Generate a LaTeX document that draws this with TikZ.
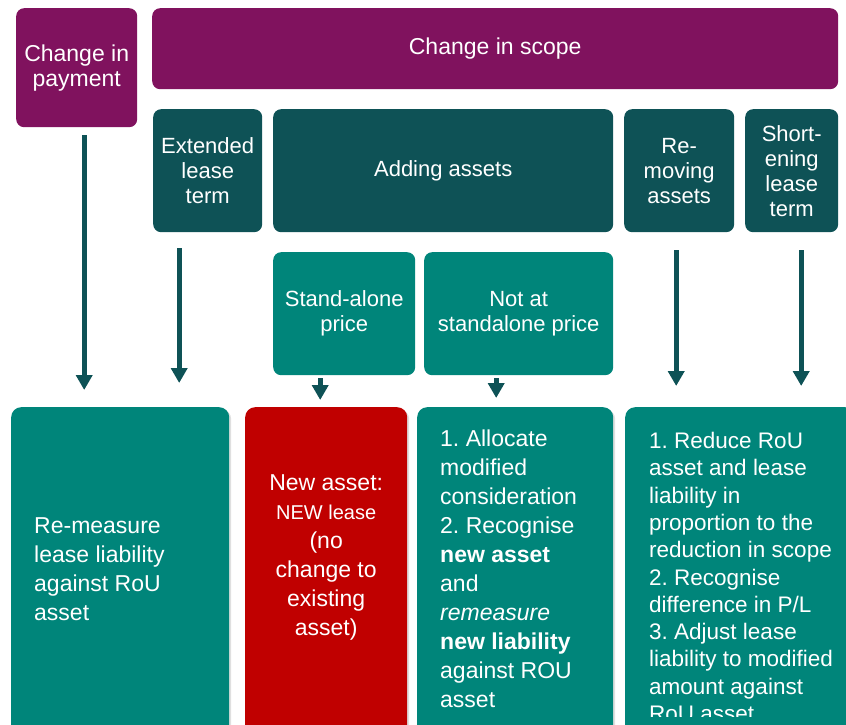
\documentclass[tikz,border=0pt]{standalone}
\usepackage{fontspec}
\setmainfont{Liberation Sans}
\frenchspacing
\usetikzlibrary{arrows.meta,positioning,shadows}

\definecolor{plum}{RGB}{128,18,94}
\definecolor{deepteal}{RGB}{14,82,86}
\definecolor{midteal}{RGB}{0,133,122}
\definecolor{alarmred}{RGB}{192,0,0}

\tikzset{
  tile/.style={anchor=north west, rounded corners=8pt, inner sep=2pt, align=center,
    text=white, font=\fontsize{22}{25}\selectfont},
  tall/.style={anchor=north west, rounded corners=10pt, minimum height=330pt,
    drop shadow={opacity=0.25, shadow xshift=2pt, shadow yshift=-2pt}},
  note/.style={inner sep=0pt, align=left, text=white, font=\fontsize{23}{29}\selectfont},
  flow/.style={draw=deepteal, line width=5pt, -{Triangle[width=16pt,length=15pt]}},
}

\begin{document}
\begin{tikzpicture}[x=1pt, y=-1pt]
		%%%%% START %%%%%
		\useasboundingbox (0,0) rectangle (846,725);
		
		% kinds of modification
		\node[tile, fill=plum, minimum width=121pt, minimum height=119pt, font=\fontsize{23}{25}\selectfont] (pay) at (16,8) {Change in\\payment};
		\node[tile, fill=plum, minimum width=686pt, minimum height=81pt, font=\fontsize{23}{25}\selectfont] (scope) at (152,8) {Change in scope};
		
		\node[tile, fill=deepteal, minimum width=109pt, minimum height=123pt] (extend) at (153,109) {Extended\\lease\\term};
		\node[tile, fill=deepteal, minimum width=340pt, minimum height=123pt] (adding) at (273,109) {Adding assets};
		\node[tile, fill=deepteal, minimum width=110pt, minimum height=123pt] (removing) at (624,109) {Re-\\moving\\assets};
		\node[tile, fill=deepteal, minimum width=93pt, minimum height=123pt] (shorten) at (745,109) {Short-\\ening\\lease\\term};
		
		\node[tile, fill=midteal, minimum width=142pt, minimum height=123pt] (alone) at (273,252) {Stand-alone\\price};
		\node[tile, fill=midteal, minimum width=189pt, minimum height=123pt] (notalone) at (424,252) {Not at\\standalone price};
		
		% accounting outcomes
		\node[tall, fill=midteal, minimum width=218pt] (remeasure) at (11,407) {};
		\node[tall, fill=alarmred, minimum width=162pt] (newasset) at (245,407) {};
		\node[tall, fill=midteal, minimum width=196pt] (allocate) at (417,407) {};
		\node[tall, fill=midteal, minimum width=230pt] (reduce) at (625,407) {};
		
		\node[note, below right=110pt and 23pt of remeasure.north west] (remeasureTxt) {Re-measure\\lease liability\\against RoU\\asset};
		\node[note, align=center, below=67pt of newasset.north] (newassetTxt) {New asset:\\{\fontsize{20}{29}\selectfont NEW lease}\\(no\\change to\\existing\\asset)};
		\node[note, below right=23pt and 23pt of allocate.north west] (allocateTxt) {1. Allocate\\modified\\consideration\\2. Recognise\\\textbf{new asset}\\and\\\textit{remeasure}\\\textbf{new liability}\\against ROU\\asset};
		\begin{scope}
			\clip (625,407) rectangle (846,716);
			\node[note, font=\fontsize{22.5}{27.3}\selectfont, below right=25pt and 24pt of reduce.north west] (reduceTxt) {1. Reduce RoU\\asset and lease\\liability in\\proportion to the\\reduction in scope\\2. Recognise\\difference in P/L\\3. Adjust lease\\liability to modified\\amount against\\RoU asset};
		\end{scope}
		
		% arrows
		\coordinate (payOut) at ([xshift=7.5pt]pay.south);
		\coordinate (extendOut) at ([xshift=-28.5pt]extend.south);
		\coordinate (aloneOut) at ([xshift=-24pt]alone.south);
		\coordinate (notaloneOut) at ([xshift=-22.5pt]notalone.south);
		\coordinate (removingOut) at ([xshift=-3pt]removing.south);
		\coordinate (shortenOut) at ([xshift=9.5pt]shorten.south);
		
		\draw[flow, shorten <=8pt, shorten >=17pt] (payOut) -- (payOut |- remeasure.north);
		\draw[flow, shorten <=16pt, shorten >=24pt] (extendOut) -- (extendOut |- remeasure.north);
		\draw[flow, shorten <=3pt, shorten >=7pt] (aloneOut) -- (aloneOut |- newasset.north);
		\draw[flow, shorten <=3pt, shorten >=9pt] (notaloneOut) -- (notaloneOut |- allocate.north);
		\draw[flow, shorten <=18pt, shorten >=21pt] (removingOut) -- (removingOut |- reduce.north);
		\draw[flow, shorten <=18pt, shorten >=21pt] (shortenOut) -- (shortenOut |- reduce.north);
		
		%%%%% END %%%%%
\end{tikzpicture}
\end{document}
